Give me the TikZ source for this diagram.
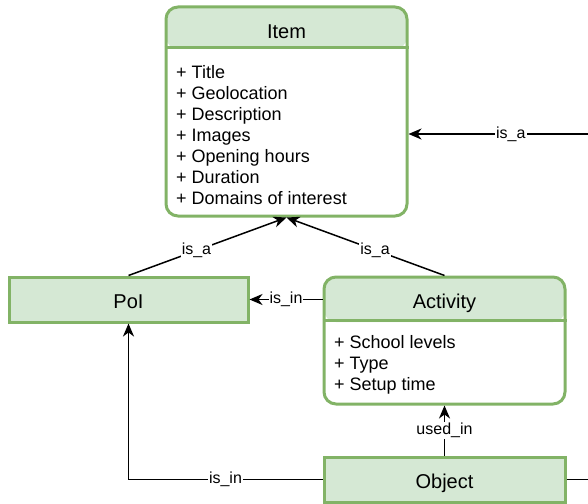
\documentclass[tikz,border=0pt]{standalone}
\usepackage{fontspec}
\setmainfont{Liberation Sans}
\usetikzlibrary{arrows.meta}
\definecolor{hdrfill}{HTML}{D5E8D4}
\definecolor{hdrline}{HTML}{82B366}

\begin{document}
\begin{tikzpicture}[x=1pt, y=-1pt]
    % boxes (header filled, body white)
    \tikzstyle{box}=[draw=hdrline, line width=3pt, inner sep=0, minimum width=241pt]
    \tikzstyle{ttl}=[inner sep=0, anchor=base, font=\fontsize{20}{24}\selectfont]
    % attribute lists, placed at the baseline of their last line
    \tikzstyle{att}=[inner sep=0, align=left, anchor=base west, font=\fontsize{18}{21}\selectfont]
    % relations
    \tikzstyle{rel}=[line width=1.5pt, -{Stealth[length=13pt, width=11pt, inset=4pt]}]
    \tikzstyle{lbl}=[fill=white, inner sep=1pt, font=\fontsize{16}{18}\selectfont]
    \useasboundingbox (0,0) rectangle (588,503);
    \node[box, rounded corners=12pt, minimum height=209pt,
          path picture={\fill[hdrfill] (path picture bounding box.north west) rectangle ([yshift=-42pt]path picture bounding box.north east);}]
          (item) at (286.5,111.5) {};
    \draw[hdrline, line width=3pt] ([yshift=-42pt]item.north west) -- ([yshift=-42pt]item.north east);
    \node[ttl] (itemttl) at (286.5,38) {Item};
    \node[att] (itematt) at (176,204) {+ Title\\+ Geolocation\\+ Description\\+ Images\\+ Opening hours\\+ Duration\\+ Domains of interest};
    \node[box, fill=hdrfill, minimum width=239pt, minimum height=45pt] (poi) at (128.5,299.5) {};
    \node[ttl] (poittl) at (128.5,308) {PoI};
    \node[box, rounded corners=12pt, minimum height=127pt,
          path picture={\fill[hdrfill] (path picture bounding box.north west) rectangle ([yshift=-45pt]path picture bounding box.north east);}]
          (activity) at (444.5,340.5) {};
    \draw[hdrline, line width=3pt] ([yshift=-45pt]activity.north west) -- ([yshift=-45pt]activity.north east);
    \node[ttl] (actttl) at (444.5,308) {Activity};
    \node[att] (actatt) at (334,390) {+ School levels\\+ Type\\+ Setup time};
    \node[box, fill=hdrfill, minimum height=45pt] (object) at (444.5,479.5) {};
    \node[ttl] (objttl) at (444.5,488) {Object};
    \coordinate (isain) at (588,134);
    \coordinate (objout) at (588,481);
    \draw[rel] (poi.north) -- node[lbl, pos=0.43] {is\_a} (item.south);
    \draw[rel] (activity.north) -- node[lbl, pos=0.44] {is\_a} (item.south);
    \draw[rel] (activity.west |- poi.east) -- node[lbl] {is\_in} (poi.east);
    \draw[rel] (object.north) -- node[lbl] {used\_in} (activity.south);
    \draw[rel] (object.west) -| node[lbl, pos=0.25] {is\_in} (poi.south);
    \draw[rel] (isain) -- node[lbl, pos=0.43] {is\_a} (item.east |- isain);
    \draw[line width=1.5pt] (object.east) -- (object.east -| objout);
\end{tikzpicture}
\end{document}
